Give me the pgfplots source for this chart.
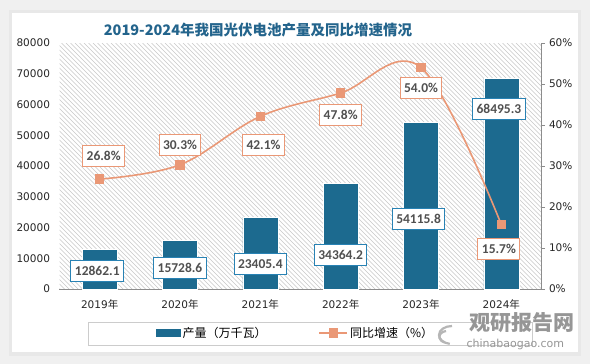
\documentclass[border=0pt]{standalone}
\usepackage{pgfplots}
\pgfplotsset{compat=1.18}
\usepackage{fontspec}
\setmainfont{DejaVu Sans}
\newfontfamily\cjk{Noto Sans CJK SC}
\newfontfamily\lab{Carlito}
\definecolor{barblue}{RGB}{28,106,143}
\definecolor{lineor}{RGB}{234,152,118}
\definecolor{titleblue}{RGB}{35,100,140}
\definecolor{labblue}{RGB}{40,130,180}
\definecolor{labtxt}{RGB}{80,80,80}
\definecolor{wm}{RGB}{150,150,150}
\begin{document}
\begin{tikzpicture}[x=1pt,y=1pt]
\fill[black!6] (0,0) rectangle (590,-364);
\fill[black!9] (9,-10) rectangle (581,-356);
\fill[white] (12,-13) rectangle (578,-352);
% hatched plot-area background
\begin{scope}
\clip (59.5,-43) rectangle (541.5,-289);
\foreach \k in {0,4.5,...,745}{
  \draw[black!22, line width=0.6pt] (59.5+\k-250,-43) -- (59.5+\k,-293);
}
\end{scope}
\node[font=\cjk\bfseries\fontsize{14.5}{16}\selectfont, text=titleblue] at (258,-30) {2019-2024年我国光伏电池产量及同比增速情况};
\draw[black!20, line width=0.8pt] (88,-322) rectangle (532,-345);
% watermark
\begin{scope}[wm!70, line width=2.2pt]
\draw (452,-326) arc (90:260:13 and 9);
\draw (446,-331) arc (100:250:8 and 6);
\end{scope}
\node[font=\cjk\bfseries\fontsize{21}{22}\selectfont, text=wm, anchor=west] at (466,-323) {观研报告网};
\node[font=\fontsize{11}{12}\selectfont, text=wm, anchor=west] at (463,-344) {chinabaogao.com};
\begin{axis}[
  at={(59.5pt,-289pt)}, anchor=south west, scale only axis,
  width=482pt, height=246pt,
  xmin=-0.5, xmax=5.5, ymin=0, ymax=80000,
  ytick={0,10000,...,80000},
  xtick={0,...,5},
  xticklabels={2019\cjk 年,2020\cjk 年,2021\cjk 年,2022\cjk 年,2023\cjk 年,2024\cjk 年},
  axis x line*=bottom, axis y line*=left,
  y axis line style={draw=none},
  x axis line style={draw=black!45, line width=0.8pt, -},
  major tick length=0pt,
  scaled y ticks=false,
  /pgf/number format/assume math mode=true,
  yticklabel style={/pgf/number format/fixed, /pgf/number format/1000 sep={}, xshift=-6pt},
  xticklabel style={yshift=-7pt},
  tick label style={font=\fontsize{10.5}{12}\selectfont, text=black!85},
  clip=false,
]
\addplot[ybar, bar width=35pt, fill=barblue, draw=white, line width=0.6pt] coordinates {
  (0,12862.1) (1,15728.6) (2,23405.4) (3,34364.2) (4,54115.8) (5,68495.3)};
\tikzset{blab/.style={draw=labblue, line width=1pt, fill=white, text=labtxt, font=\lab\bfseries\fontsize{13.5}{14}\selectfont, inner xsep=4pt, inner ysep=3pt, minimum height=21pt}}
\node[blab] at (axis cs:-0.03,5854) {12862.1};
\node[blab] at (axis cs:1,6830) {15728.6};
\node[blab] at (axis cs:2,8130) {23405.4};
\node[blab] at (axis cs:3,11060) {34364.2};
\node[blab] at (axis cs:3.97,22760) {54115.8};
\node[blab] at (axis cs:4.97,58540) {68495.3};
\end{axis}
\begin{axis}[
  at={(59.5pt,-289pt)}, anchor=south west, scale only axis,
  width=482pt, height=246pt,
  xmin=-0.5, xmax=5.5, ymin=0, ymax=60,
  ytick={0,10,...,60},
  axis y line*=right, axis x line=none,
  y axis line style={draw=black!45, line width=0.8pt, -},
  ytick style={draw=black!45, line width=0.8pt},
  major tick length=3pt, tick align=outside,
  yticklabel={\pgfmathprintnumber{\tick}\%},
  /pgf/number format/assume math mode=true,
  yticklabel style={xshift=1pt},
  tick label style={font=\fontsize{10.5}{12}\selectfont, text=black!85},
  clip=false,
  legend style={at={(0.49,-0.179)}, anchor=center, draw=none, fill=none,
    legend columns=2, font=\cjk\fontsize{12}{13}\selectfont,
    /tikz/every even column/.append style={column sep=50pt}},
  legend cell align=left,
]
\addlegendimage{legend image code/.code={\fill[barblue] (0pt,-3.5pt) rectangle (24pt,3.5pt);}}
\addlegendentry{产量（万千瓦）}
\addplot[lineor, line width=1.6pt, smooth, tension=0.6, mark=square*, mark size=4pt,
  mark options={fill=lineor, draw=lineor},
  legend image code/.code={\draw[lineor, line width=1.6pt] (0pt,0pt) -- (28pt,0pt); \fill[lineor] (10pt,-4pt) rectangle (18pt,4pt);}]
  coordinates {(0,26.8) (1,30.3) (2,42.1) (3,47.8) (4,54.0) (5,15.7)};
\addlegendentry{同比增速（\%）}
\tikzset{olab/.style={draw=lineor, line width=1pt, fill=white, text=labtxt, font=\lab\bfseries\fontsize{13.5}{14}\selectfont, inner xsep=4pt, inner ysep=3pt, minimum height=21pt}}
\node[olab] at (axis cs:0.05,32.4) {26.8\%};
\node[olab] at (axis cs:1,35.1) {30.3\%};
\node[olab] at (axis cs:2.04,35.1) {42.1\%};
\node[olab] at (axis cs:3,42.4) {47.8\%};
\node[olab] at (axis cs:4,49.0) {54.0\%};
\node[olab] at (axis cs:4.97,9.76) {15.7\%};
\end{axis}
\end{tikzpicture}
\end{document}
